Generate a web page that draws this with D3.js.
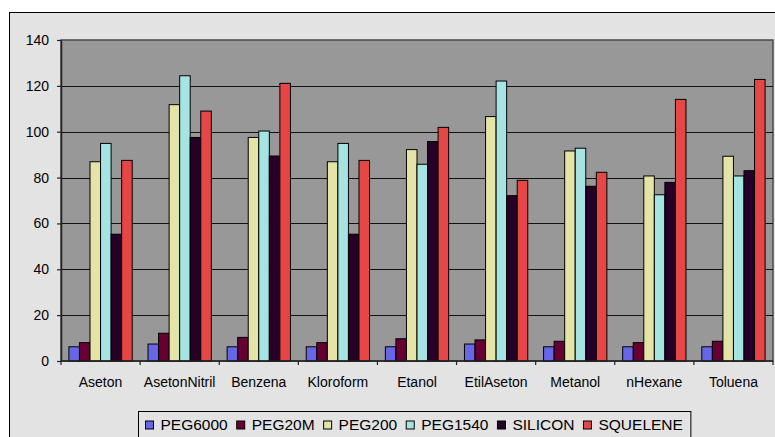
<!DOCTYPE html>
<html>
<head>
<meta charset="utf-8">
<script src="https://cdn.jsdelivr.net/npm/d3@7"></script>
<style>
  html, body { margin: 0; padding: 0; background: #ffffff; }
  svg { display: block; font-family: "Liberation Sans", Arial, sans-serif; }
</style>
</head>
<body>
<svg id="chart" width="775" height="437"></svg>
<script>
// Solvent categories on the x axis
const categories = ["Aseton", "AsetonNitril", "Benzena", "Kloroform", "Etanol", "EtilAseton", "Metanol", "nHexane", "Toluena"];

// Sensor coating series
const seriesNames = ["PEG6000", "PEG20M", "PEG200", "PEG1540", "SILICON", "SQUELENE"];

// Response of each coating per solvent (same order as categories)
const peg6000  = [6.2, 7.4, 6.2, 6.2, 6.2, 7.4, 6.2, 6.2, 6.2];
const peg20m   = [8.0, 12.1, 10.3, 8.0, 9.7, 9.2, 8.6, 8.0, 8.6];
const peg200   = [86.9, 111.8, 97.5, 86.9, 92.2, 106.6, 91.6, 80.7, 89.3];
const peg1540  = [94.9, 124.4, 100.3, 94.9, 85.8, 122.1, 92.8, 72.5, 80.7];
const silicon  = [55.3, 97.5, 89.4, 55.3, 95.7, 72.1, 76.2, 77.9, 83.0];
const squelene = [87.5, 109.0, 121.1, 87.5, 101.9, 78.8, 82.3, 114.1, 122.8];

const seriesValues = [peg6000, peg20m, peg200, peg1540, silicon, squelene];
const seriesColors = ["#6666e6", "#660033", "#e4e4a6", "#a6e4e4", "#260026", "#e64646"];

// Y axis ticks
const yTicks = [0, 20, 40, 60, 80, 100, 120, 140];

const svg = d3.select("#chart");

// Chart area background with frame
svg.append("rect")
  .attr("x", 9.5).attr("y", 12.5)
  .attr("width", 800).attr("height", 440)
  .attr("fill", "#e3e3e3")
  .attr("stroke", "#000").attr("stroke-width", 1);

const plot = { left: 61, right: 773, top: 40, bottom: 361 };

const x0 = d3.scaleBand()
  .domain(categories)
  .range([plot.left, plot.right])
  .padding(0);

const barGap = x0.bandwidth() * 1.5 / 7.5 / 2;
const x1 = d3.scaleBand()
  .domain(seriesNames)
  .range([barGap, x0.bandwidth() - barGap])
  .padding(0);

const y = d3.scaleLinear()
  .domain([0, 140])
  .range([plot.bottom, plot.top]);

// Plot area
svg.append("rect")
  .attr("x", plot.left).attr("y", plot.top)
  .attr("width", plot.right - plot.left).attr("height", plot.bottom - plot.top)
  .attr("fill", "#989898")
  .attr("stroke", "#4a4a4a").attr("stroke-width", 1.5);

// Horizontal gridlines
svg.append("g")
  .selectAll("line")
  .data(yTicks.filter(t => t > 0 && t < 140))
  .join("line")
  .attr("x1", plot.left).attr("x2", plot.right)
  .attr("y1", d => Math.round(y(d)) + 0.5).attr("y2", d => Math.round(y(d)) + 0.5)
  .attr("stroke", "#111").attr("stroke-width", 1.2);

// Bars
const rows = categories.map((c, i) => ({ cat: c, vals: seriesNames.map((s, j) => ({ s, j, v: seriesValues[j][i] })) }));

svg.append("g")
  .selectAll("g")
  .data(rows)
  .join("g")
  .attr("transform", d => `translate(${x0(d.cat)},0)`)
  .selectAll("rect")
  .data(d => d.vals)
  .join("rect")
  .attr("x", d => x1(d.s))
  .attr("y", d => y(d.v))
  .attr("width", x1.bandwidth())
  .attr("height", d => y(0) - y(d.v))
  .attr("fill", d => seriesColors[d.j])
  .attr("stroke", "#000").attr("stroke-width", 1);

// Y axis
const yAxis = svg.append("g")
  .attr("transform", `translate(${plot.left},0)`)
  .call(d3.axisLeft(y).tickValues(yTicks).tickSize(4).tickPadding(8).tickSizeOuter(0));
yAxis.select(".domain").attr("stroke", "#222").attr("stroke-width", 1.5);
yAxis.selectAll(".tick line").attr("stroke", "#222").attr("stroke-width", 1.2);
yAxis.selectAll("text").attr("font-size", 14).attr("fill", "#000")
  .attr("font-family", "'Liberation Sans', Arial, sans-serif");

// X axis: ticks at category boundaries, labels centered in each band
const xAxisG = svg.append("g").attr("transform", `translate(0,${plot.bottom})`);
xAxisG.append("line")
  .attr("x1", plot.left).attr("x2", plot.right)
  .attr("y1", 0).attr("y2", 0)
  .attr("stroke", "#222").attr("stroke-width", 1.5);
xAxisG.selectAll("line.tk")
  .data(categories.map(c => x0(c)).concat([plot.right]))
  .join("line")
  .attr("class", "tk")
  .attr("x1", d => d).attr("x2", d => d)
  .attr("y1", 0).attr("y2", 4)
  .attr("stroke", "#222").attr("stroke-width", 1.2);
xAxisG.selectAll("text")
  .data(categories)
  .join("text")
  .attr("x", d => x0(d) + x0.bandwidth() / 2)
  .attr("y", 26)
  .attr("text-anchor", "middle")
  .attr("font-size", 14)
  .attr("fill", "#000")
  .text(d => d);

// Legend
const legend = svg.append("g");
const legendBox = legend.append("rect")
  .attr("fill", "#e3e3e3")
  .attr("stroke", "#000").attr("stroke-width", 1);
const items = legend.selectAll("g.item")
  .data(seriesNames)
  .join("g").attr("class", "item");
items.append("rect")
  .attr("width", 8).attr("height", 8)
  .attr("y", -8.5)
  .attr("fill", (d, i) => seriesColors[i])
  .attr("stroke", "#000").attr("stroke-width", 1);
const labels = items.append("text")
  .attr("x", 15)
  .attr("y", 0)
  .attr("font-size", 15.5)
  .attr("fill", "#000")
  .text(d => d);

let cursor = 145.5;
items.each(function (d, i) {
  const w = d3.select(this).select("text").node().getComputedTextLength();
  d3.select(this).attr("transform", `translate(${cursor},429.5)`);
  cursor += 15 + w + 9;
});
legendBox
  .attr("x", 138.5).attr("y", 411.5)
  .attr("width", Math.max(cursor - 9 + 8 - 138.5, 10))
  .attr("height", 30);
</script>
</body>
</html>
